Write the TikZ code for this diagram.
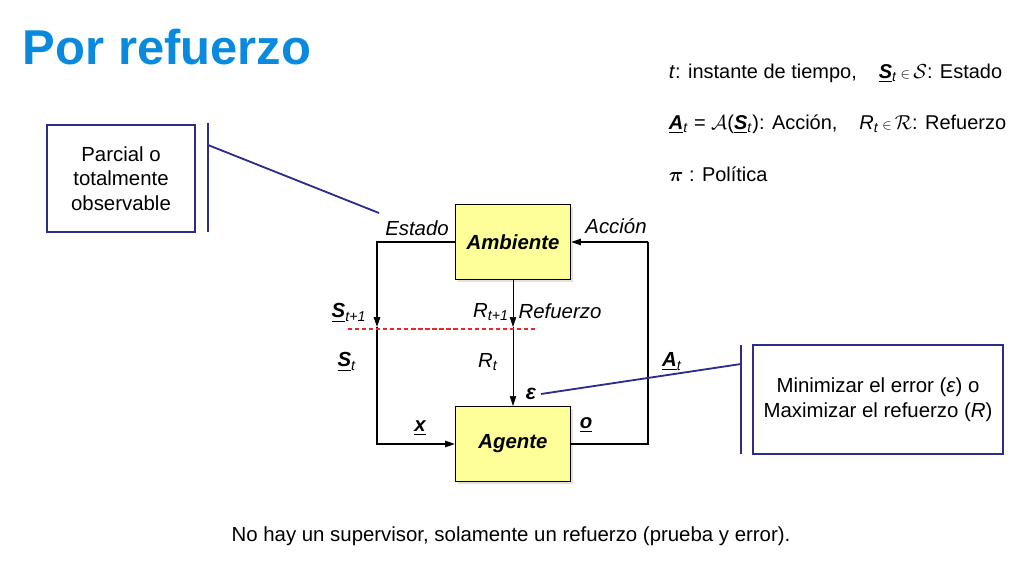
\documentclass[tikz,border=0pt]{standalone}
\usepackage{amsmath, amssymb}
\usepackage{fontspec}
\setmainfont{Liberation Sans}
\usepackage{tikz}
\usetikzlibrary{arrows.meta, positioning, shadows}

\definecolor{titleblue}{RGB}{10,138,222}
\definecolor{navy}{RGB}{44,44,140}
\definecolor{boxyellow}{RGB}{255,255,153}
\definecolor{dashred}{RGB}{235,40,40}

\begin{document}
\begin{tikzpicture}[
                x=0.025cm, y=-0.025cm,
                every node/.style={font=\fontsize{14.5}{17.4}\selectfont},
                block/.style={draw, thick, fill=boxyellow, minimum width=2.875cm, minimum height=1.875cm,
                    font=\fontsize{14.5}{16}\selectfont\bfseries\itshape,
                    drop shadow={shadow xshift=1.5pt, shadow yshift=-1.5pt, fill=gray!45}},
                note/.style={draw=navy, line width=1.1pt, align=center},
                loop/.style={line width=1.2pt, -{Triangle[length=7pt, width=4.5pt]}},
                thinarrow/.style={thin, -{Triangle[length=7pt, width=4.5pt]}},
                callout/.style={navy, line width=1.3pt},
                lbl/.style={font=\fontsize{14.5}{16}\selectfont\itshape},
                legend/.style={anchor=west, font=\fontsize{14.2}{17}\selectfont}
            ]
                \useasboundingbox (0,0) rectangle (1033,561);

                % title and legend
                \node[anchor=west, text=titleblue, font=\fontsize{34.8}{40}\selectfont\bfseries] (title) at (18,47) {Por refuerzo};
                \node[legend] (leg1) at (664,73) {\textit{t}: instante de tiempo,\hspace{1.1em}\textbf{\textit{\underline{S}}}\textsubscript{\textit{t}}\,$\scriptstyle\in$\,$\mathcal{S}$: Estado};
                \node[legend] (leg2) at (664,124) {\textbf{\textit{\underline{A}}}\textsubscript{\textit{t}} = $\mathcal{A}$(\textbf{\textit{\underline{S}}}\textsubscript{\textit{t}}): Acción,\hspace{1.1em}\textit{R}\textsubscript{\textit{t}}\,$\scriptstyle\in$\,$\mathcal{R}$: Refuerzo};
                \node[legend] (leg3) at (664,174) {$\boldsymbol{\pi}$ : Política};

                % blocks
                \node[block] (amb) at (513,242) {Ambiente};
                \node[block] (age) at (513,444) {Agente};

                \coordinate (sarr) at (377,327);
                \coordinate (rarr) at (513,327);
                \coordinate (acor) at (648,242);

                \draw[loop] (amb.west) -| (sarr);
                \draw[loop] (sarr) |- (age.west);
                \draw[line width=1.2pt] (age.east) -| (acor);
                \draw[loop] (acor) -- (amb.east);
                \draw[thinarrow] (amb.south) -- (rarr);
                \draw[thinarrow] (rarr) -- (age.north);

                \coordinate (red1) at (348,329);
                \coordinate (red2) at (536,329);
                \draw[dashred, line width=0.8pt, dash pattern=on 3pt off 2pt] (red1) -- (red2);

                % labels
                \node[lbl] (estado) at (417,228) {Estado};
                \node[lbl] (accion) at (616,226) {Acción};
                \node (s1) at (349,313) {\textbf{\textit{\underline{S}}}\textsubscript{\textit{t+1}}};
                \node (r1) at (491,312) {\textit{R}\textsubscript{\textit{t+1}}};
                \node[lbl] (refz) at (560,311) {Refuerzo};
                \node (s0) at (347,362) {\textbf{\textit{\underline{S}}}\textsubscript{\textit{t}}};
                \node (r0) at (488,362) {\textit{R}\textsubscript{\textit{t}}};
                \node (a0) at (672,362) {\textbf{\textit{\underline{A}}}\textsubscript{\textit{t}}};
                \node[font=\fontsize{15}{16}\selectfont\bfseries\itshape] (eps) at (531,394) {ε};
                \node[font=\fontsize{14.5}{16}\selectfont\bfseries\itshape] (xin) at (420,428) {\underline{x}};
                \node[font=\fontsize{14.5}{16}\selectfont\bfseries\itshape] (oout) at (586,425) {\underline{o}};

                % callouts
                \node[note, minimum width=3.7cm, minimum height=2.675cm] (obs) at (121,178.5) {Parcial o\\totalmente\\observable};
                \coordinate (bar1a) at (208,123);
                \coordinate (bar1b) at (208,232);
                \coordinate (bar1c) at (208,145);
                \coordinate (tip1) at (379,213);
                \draw[callout] (bar1a) -- (bar1b);
                \draw[callout] (bar1c) -- (tip1);

                \node[note, minimum width=6.25cm, minimum height=2.725cm] (goal) at (878,399.5) {Minimizar el error (\textit{ε}) o\\Maximizar el refuerzo (\textit{R})};
                \coordinate (bar2a) at (741,345);
                \coordinate (bar2b) at (741,454);
                \coordinate (bar2c) at (741,364);
                \draw[callout] (bar2a) -- (bar2b);
                \draw[callout] (bar2c) -- (eps.east);

                \node (foot) at (511,536) {No hay un supervisor, solamente un refuerzo (prueba y error).};
            \end{tikzpicture}
\end{document}
